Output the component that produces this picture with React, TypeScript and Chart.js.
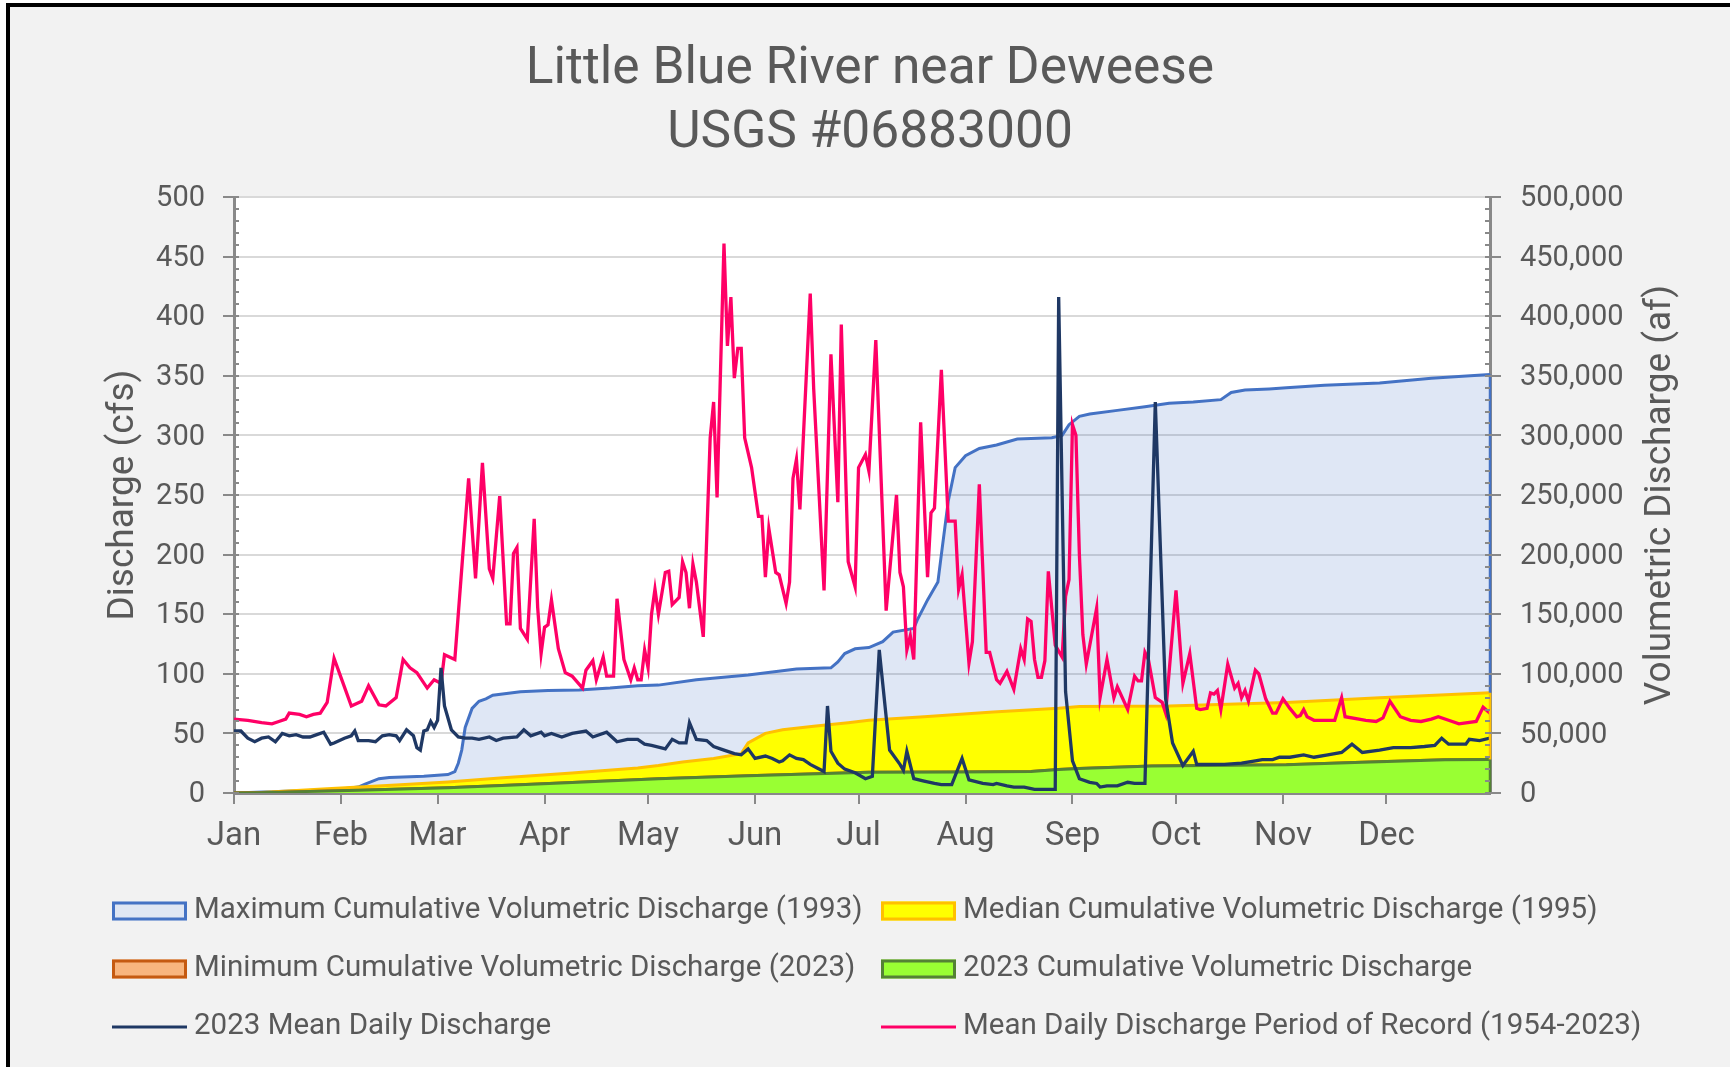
import { useEffect, useRef } from 'react';
import { Chart, registerables } from 'chart.js';

Chart.register(...registerables);

// ---------------- data ----------------
const titleLines = ['Little Blue River near Deweese', 'USGS #06883000'];
const leftAxisTitle = 'Discharge (cfs)';
const rightAxisTitle = 'Volumetric Discharge (af)';
const monthLabels = ['Jan', 'Feb', 'Mar', 'Apr', 'May', 'Jun', 'Jul', 'Aug', 'Sep', 'Oct', 'Nov', 'Dec'];
const monthStartDays = [0, 31, 59, 90, 120, 151, 181, 212, 243, 273, 304, 334];

// Maximum cumulative volumetric discharge (1993), af
const maxDays = [0, 30, 36, 38, 42, 45, 55, 62, 64, 65, 66, 67, 69, 71, 73, 75, 83, 91, 100, 109, 117, 123, 134, 149, 163, 173, 175, 177, 180, 184, 188, 191, 197, 198, 201, 204, 205, 207, 209, 212, 216, 221, 227, 237, 240, 242, 245, 248, 256, 264, 271, 278, 286, 289, 293, 300, 305, 316, 332, 347, 364];
const maxAf = [0, 3000, 5000, 7500, 12000, 13000, 14000, 15500, 18000, 25000, 36000, 55000, 71000, 77000, 79000, 82000, 85000, 86000, 86500, 88000, 90000, 90500, 95000, 99000, 104000, 105000, 110000, 117000, 121000, 122000, 127000, 135000, 138000, 145000, 162000, 177000, 200000, 245000, 273000, 283000, 289000, 292000, 297000, 298000, 300000, 309000, 316000, 318000, 321000, 324000, 327000, 328000, 330000, 336000, 338000, 339000, 340000, 342000, 344000, 348000, 351000];

// Median cumulative volumetric discharge (1995), af
const medDays = [0, 8, 27, 47, 62, 78, 98, 117, 123, 130, 139, 147, 149, 154, 159, 168, 178, 184, 200, 220, 239, 245, 271, 305, 332, 364];
const medAf = [0, 500, 3600, 6700, 9300, 12700, 16700, 21000, 23000, 26000, 29000, 33000, 42000, 50000, 53000, 56000, 59000, 61000, 64000, 68000, 71000, 72500, 73000, 76000, 80000, 84000];

// 2023 cumulative volumetric discharge (also the minimum year), af
const cumDays = [0, 8, 36, 62, 88, 123, 149, 184, 210, 231, 239, 245, 266, 305, 327, 351, 364];
const cumAf = [0, 300, 2400, 4500, 7600, 12000, 14500, 17500, 17600, 18000, 19700, 20600, 22700, 23600, 25800, 27900, 28000];
const minDays = cumDays;
const minAf = cumAf;

// 2023 mean daily discharge [dayOfYear, cfs]
const daily2023: [number, number][] = [
  [0, 52], [2, 52], [4, 46], [6, 43], [8, 46], [10, 47], [12, 43], [14, 50], [16, 48], [18, 49], [20, 47], [22, 47], [24, 49], [26, 51], [28, 41], [29, 42], [32, 46], [34, 48], [35, 52], [36, 44], [39, 44], [41, 43], [43, 48], [45, 49], [47, 48], [48, 44], [50, 53], [52, 48], [53, 38], [54, 36], [55, 52], [56, 53], [57, 60], [58, 55], [59, 61], [60, 105], [61, 73], [63, 53], [65, 47], [67, 46], [69, 46], [71, 45], [74, 47], [76, 44], [78, 46], [82, 47], [84, 53], [86, 48], [89, 51], [90, 48], [92, 50], [95, 47], [98, 50], [102, 52], [104, 47], [108, 51], [111, 43], [114, 45], [117, 45], [119, 41], [121, 40], [125, 37], [127, 45], [129, 42], [131, 42], [132, 59], [134, 45], [137, 44], [139, 39], [142, 36], [145, 33], [147, 32], [149, 37], [151, 29], [154, 31], [156, 29], [158, 26], [159, 27], [161, 32], [163, 29], [165, 28], [167, 24], [169, 21], [171, 18], [172, 73], [173, 35], [175, 25], [177, 20], [180, 17], [183, 12], [185, 14], [187, 120], [190, 36], [193, 24], [194, 19], [195, 35], [197, 12], [200, 10], [203, 8], [205, 7], [208, 7], [211, 29], [213, 11], [217, 8], [220, 7], [221, 8], [224, 6], [226, 5], [229, 5], [232, 3], [238, 3], [239, 416], [241, 85], [243, 27], [245, 12], [248, 9], [250, 8], [251, 5], [253, 6], [256, 6], [259, 9], [261, 8], [264, 8], [267, 328], [270, 79], [272, 42], [275, 23], [278, 35], [279, 24], [282, 24], [287, 24], [292, 25], [296, 27], [298, 28], [301, 28], [303, 30], [306, 30], [310, 32], [313, 30], [317, 32], [321, 34], [324, 41], [327, 34], [332, 36], [336, 38], [341, 38], [345, 39], [348, 40], [350, 46], [352, 41], [357, 41], [358, 45], [361, 44], [364, 46],
];

// Mean daily discharge, period of record (1954-2023) [dayOfYear, cfs]
const dailyPOR: [number, number][] = [
  [0, 62], [4, 61], [8, 59], [11, 58], [13, 60], [15, 62], [16, 67], [19, 66], [21, 64], [23, 66], [25, 67], [27, 76], [29, 113], [31, 97], [34, 73], [37, 77], [39, 90], [42, 74], [44, 73], [47, 80], [49, 112], [51, 105], [53, 101], [56, 88], [58, 95], [60, 92], [61, 116], [64, 112], [68, 264], [70, 180], [72, 277], [74, 188], [75, 180], [77, 249], [79, 142], [80, 142], [81, 201], [82, 206], [83, 138], [85, 129], [87, 230], [88, 156], [89, 117], [90, 139], [91, 141], [92, 162], [94, 121], [96, 101], [98, 98], [101, 88], [102, 103], [104, 111], [105, 95], [107, 114], [108, 98], [110, 98], [111, 163], [113, 112], [115, 95], [116, 105], [117, 95], [118, 95], [119, 120], [120, 105], [121, 150], [122, 171], [123, 150], [125, 185], [126, 186], [127, 158], [129, 164], [130, 194], [131, 185], [132, 155], [133, 192], [134, 177], [136, 131], [138, 298], [139, 328], [140, 248], [142, 461], [143, 375], [144, 416], [145, 348], [146, 373], [147, 373], [148, 298], [150, 273], [152, 232], [153, 232], [154, 181], [155, 222], [157, 185], [158, 183], [160, 159], [161, 177], [162, 264], [163, 280], [164, 238], [167, 419], [168, 339], [171, 170], [173, 368], [175, 244], [176, 393], [178, 194], [180, 173], [181, 273], [183, 284], [184, 270], [186, 380], [189, 153], [192, 250], [193, 185], [194, 173], [195, 120], [196, 132], [197, 112], [199, 311], [201, 181], [202, 235], [203, 239], [205, 355], [207, 228], [209, 228], [210, 171], [211, 183], [213, 109], [214, 127], [216, 259], [218, 118], [219, 118], [221, 95], [222, 92], [224, 102], [226, 87], [228, 121], [229, 112], [230, 146], [231, 144], [232, 112], [233, 97], [234, 97], [235, 111], [236, 186], [238, 124], [240, 114], [241, 165], [242, 179], [243, 309], [244, 300], [245, 200], [246, 133], [247, 108], [250, 155], [251, 80], [253, 112], [255, 80], [256, 89], [259, 70], [261, 98], [262, 94], [263, 94], [264, 118], [265, 112], [267, 80], [269, 76], [270, 67], [273, 170], [275, 92], [277, 117], [279, 71], [280, 70], [282, 71], [283, 84], [284, 83], [285, 86], [286, 70], [288, 108], [290, 88], [291, 92], [292, 80], [293, 86], [294, 77], [296, 103], [297, 100], [299, 79], [301, 67], [302, 67], [304, 79], [306, 71], [308, 64], [309, 65], [310, 70], [311, 64], [313, 61], [319, 61], [321, 80], [322, 64], [326, 62], [328, 61], [331, 60], [333, 63], [335, 77], [338, 64], [341, 61], [344, 60], [347, 62], [349, 64], [352, 61], [355, 58], [360, 60], [362, 72], [364, 67],
];

const seriesNames = [
  'Maximum Cumulative Volumetric Discharge (1993)',
  'Median Cumulative Volumetric Discharge (1995)',
  'Minimum Cumulative Volumetric Discharge (2023)',
  '2023 Cumulative Volumetric Discharge',
  '2023 Mean Daily Discharge',
  'Mean Daily Discharge Period of Record (1954-2023)',
];

// ---------------- styling ----------------
const W = 1730;
const H = 1067;
const TEXT = '#595959';
const AXIS = '#898989';
const FONT = 'Roboto';
const C_MAX = '#4472C4';
const C_MAX_FILL = 'rgba(68,114,196,0.17)';
const C_MAX_LEG = '#DFE6F3';
const C_MED = '#FFC000';
const C_MED_FILL = '#FFFF00';
const C_MIN = '#C55A11';
const C_MIN_FILL = '#F8B57E';
const C_CUM = '#548235';
const C_CUM_FILL = '#99FF33';
const C_NAVY = '#1F3864';
const C_PINK = '#FF0066';

const toPts = (xs: number[], ys: number[]) => xs.map((x, i) => ({ x, y: ys[i] }));
const pairPts = (p: [number, number][]) => p.map(([x, y]) => ({ x, y }));

const decorPlugin = {
  id: 'decor',
  beforeDraw(chart: any) {
    const { ctx, chartArea: a } = chart;
    ctx.save();
    ctx.fillStyle = '#ffffff';
    ctx.fillRect(0, 0, W, H);
    ctx.fillStyle = '#f2f2f2';
    ctx.fillRect(6, 3, W, H);
    ctx.fillStyle = '#000000';
    ctx.fillRect(6, 3, W, 4);
    ctx.fillRect(6, 3, 4, H);
    ctx.fillStyle = '#ffffff';
    ctx.fillRect(a.left, a.top, a.right - a.left, a.bottom - a.top);

    // title
    ctx.fillStyle = TEXT;
    ctx.textAlign = 'center';
    ctx.textBaseline = 'alphabetic';
    ctx.font = `51.5px ${FONT}`;
    ctx.fillText(titleLines[0], 870, 83);
    ctx.fillText(titleLines[1], 870, 147);

    // axis titles
    const cy = (a.top + a.bottom) / 2;
    ctx.font = `37px ${FONT}`;
    ctx.save();
    ctx.translate(133, cy);
    ctx.rotate(-Math.PI / 2);
    ctx.fillText(leftAxisTitle, 0, 0);
    ctx.restore();
    ctx.save();
    ctx.translate(1670, cy);
    ctx.rotate(-Math.PI / 2);
    ctx.fillText(rightAxisTitle, 0, 0);
    ctx.restore();

    // legend
    const rows = [911, 969, 1027];
    const cols = [112, 881];
    const items = [
      { kind: 'box', stroke: C_MAX, fill: C_MAX_LEG },
      { kind: 'box', stroke: C_MED, fill: C_MED_FILL },
      { kind: 'box', stroke: C_MIN, fill: C_MIN_FILL },
      { kind: 'box', stroke: C_CUM, fill: C_CUM_FILL },
      { kind: 'line', stroke: C_NAVY, fill: '' },
      { kind: 'line', stroke: C_PINK, fill: '' },
    ];
    ctx.font = `29.5px ${FONT}`;
    ctx.textAlign = 'left';
    ctx.textBaseline = 'middle';
    items.forEach((it, i) => {
      const x = cols[i % 2];
      const y = rows[Math.floor(i / 2)];
      if (it.kind === 'box') {
        ctx.fillStyle = it.fill;
        ctx.fillRect(x, y - 9.5, 75, 19);
        ctx.strokeStyle = it.stroke;
        ctx.lineWidth = 3;
        ctx.strokeRect(x + 1.5, y - 8, 72, 16);
      } else {
        ctx.strokeStyle = it.stroke;
        ctx.lineWidth = 3;
        ctx.beginPath();
        ctx.moveTo(x, y);
        ctx.lineTo(x + 75, y);
        ctx.stroke();
      }
      ctx.fillStyle = TEXT;
      ctx.fillText(seriesNames[i], x + 82, y);
    });
    ctx.restore();
  },
  afterDatasetsDraw(chart: any) {
    const { ctx, chartArea: a, scales } = chart;
    const yS = scales.y;
    const y1S = scales.y1;
    const xS = scales.x;
    ctx.save();
    // right edges of the area series
    const edge = (top: number, bot: number, color: string) => {
      ctx.strokeStyle = color;
      ctx.lineWidth = 2.5;
      ctx.beginPath();
      ctx.moveTo(a.right, y1S.getPixelForValue(top));
      ctx.lineTo(a.right, y1S.getPixelForValue(bot));
      ctx.stroke();
    };
    edge(maxAf[maxAf.length - 1], medAf[medAf.length - 1], C_MAX);
    edge(medAf[medAf.length - 1], cumAf[cumAf.length - 1], C_MED);
    edge(cumAf[cumAf.length - 1], 0, C_CUM);

    // tick marks
    ctx.strokeStyle = AXIS;
    ctx.lineWidth = 2;
    ctx.beginPath();
    for (let v = 0; v <= 500; v += 10) {
      const py = Math.round(yS.getPixelForValue(v));
      ctx.moveTo(v % 50 === 0 ? a.left - 11 : a.left, py);
      ctx.lineTo(a.left + 5, py);
    }
    for (let v = 0; v <= 500000; v += 10000) {
      const py = Math.round(y1S.getPixelForValue(v));
      ctx.moveTo(a.right - 5, py);
      ctx.lineTo(v % 50000 === 0 ? a.right + 11 : a.right, py);
    }
    monthStartDays.forEach((d) => {
      const px = Math.round(xS.getPixelForValue(d));
      ctx.moveTo(px, a.bottom);
      ctx.lineTo(px, a.bottom + 11);
    });
    ctx.stroke();
    ctx.restore();
  },
};

export default function App() {
  const ref = useRef<HTMLCanvasElement>(null);
  useEffect(() => {
    const tickFont = { family: FONT, size: 29 };
    const chart = new Chart(ref.current as HTMLCanvasElement, {
      type: 'line',
      data: {
        datasets: [
          { label: seriesNames[0], data: toPts(maxDays, maxAf), yAxisID: 'y1', borderColor: C_MAX, backgroundColor: C_MAX_FILL, fill: 'origin', borderWidth: 3, pointRadius: 0, order: 5 },
          { label: seriesNames[1], data: toPts(medDays, medAf), yAxisID: 'y1', borderColor: C_MED, backgroundColor: C_MED_FILL, fill: 'origin', borderWidth: 3, pointRadius: 0, order: 4 },
          { label: seriesNames[2], data: toPts(minDays, minAf), yAxisID: 'y1', borderColor: C_MIN, backgroundColor: C_MIN_FILL, fill: 'origin', borderWidth: 3, pointRadius: 0, order: 3 },
          { label: seriesNames[3], data: toPts(cumDays, cumAf), yAxisID: 'y1', borderColor: C_CUM, backgroundColor: C_CUM_FILL, fill: 'origin', borderWidth: 3, pointRadius: 0, order: 2 },
          { label: seriesNames[4], data: pairPts(daily2023), yAxisID: 'y', borderColor: C_NAVY, backgroundColor: C_NAVY, fill: false, borderWidth: 3.3, pointRadius: 0, order: 0 },
          { label: seriesNames[5], data: pairPts(dailyPOR), yAxisID: 'y', borderColor: C_PINK, backgroundColor: C_PINK, fill: false, borderWidth: 3.3, pointRadius: 0, order: 1 },
        ] as any,
      },
      options: {
        responsive: false,
        animation: false,
        devicePixelRatio: 1,
        layout: { padding: { top: 197, bottom: 186, left: 0, right: 0 } },
        plugins: { legend: { display: false }, title: { display: false }, tooltip: { enabled: false } },
        scales: {
          x: {
            type: 'linear',
            min: 0,
            max: 364,
            afterBuildTicks: (s: any) => {
              s.ticks = monthStartDays.map((v) => ({ value: v }));
            },
            afterFit: (s: any) => {
              s.height = 88;
            },
            ticks: {
              autoSkip: false,
              maxRotation: 0,
              padding: 24,
              color: TEXT,
              font: { family: FONT, size: 33 },
              callback: (_v: any, i: number) => monthLabels[i],
            },
            grid: { display: false, drawTicks: false },
            border: { display: true, color: AXIS, width: 3 },
          },
          y: {
            type: 'linear',
            position: 'left',
            min: 0,
            max: 500,
            afterFit: (s: any) => {
              s.width = 234;
            },
            ticks: { stepSize: 50, padding: 29, labelOffset: 2, color: TEXT, font: tickFont },
            grid: { color: '#d9d9d9', lineWidth: 2, drawTicks: false },
            border: { display: true, color: AXIS, width: 3 },
          },
          y1: {
            type: 'linear',
            position: 'right',
            min: 0,
            max: 500000,
            afterFit: (s: any) => {
              s.width = 240;
            },
            ticks: {
              stepSize: 50000,
              padding: 30,
              labelOffset: 2,
              color: TEXT,
              font: tickFont,
              callback: (v: any) => Number(v).toLocaleString('en-US'),
            },
            grid: { drawOnChartArea: false, drawTicks: false },
            border: { display: true, color: AXIS, width: 3 },
          },
        },
      } as any,
      plugins: [decorPlugin],
    });
    return () => chart.destroy();
  }, []);
  return (
    <div style={{ position: 'absolute', left: 0, top: 0, width: W, height: H }}>
      <canvas ref={ref} width={W} height={H} style={{ display: 'block', width: W, height: H }} />
    </div>
  );
}
